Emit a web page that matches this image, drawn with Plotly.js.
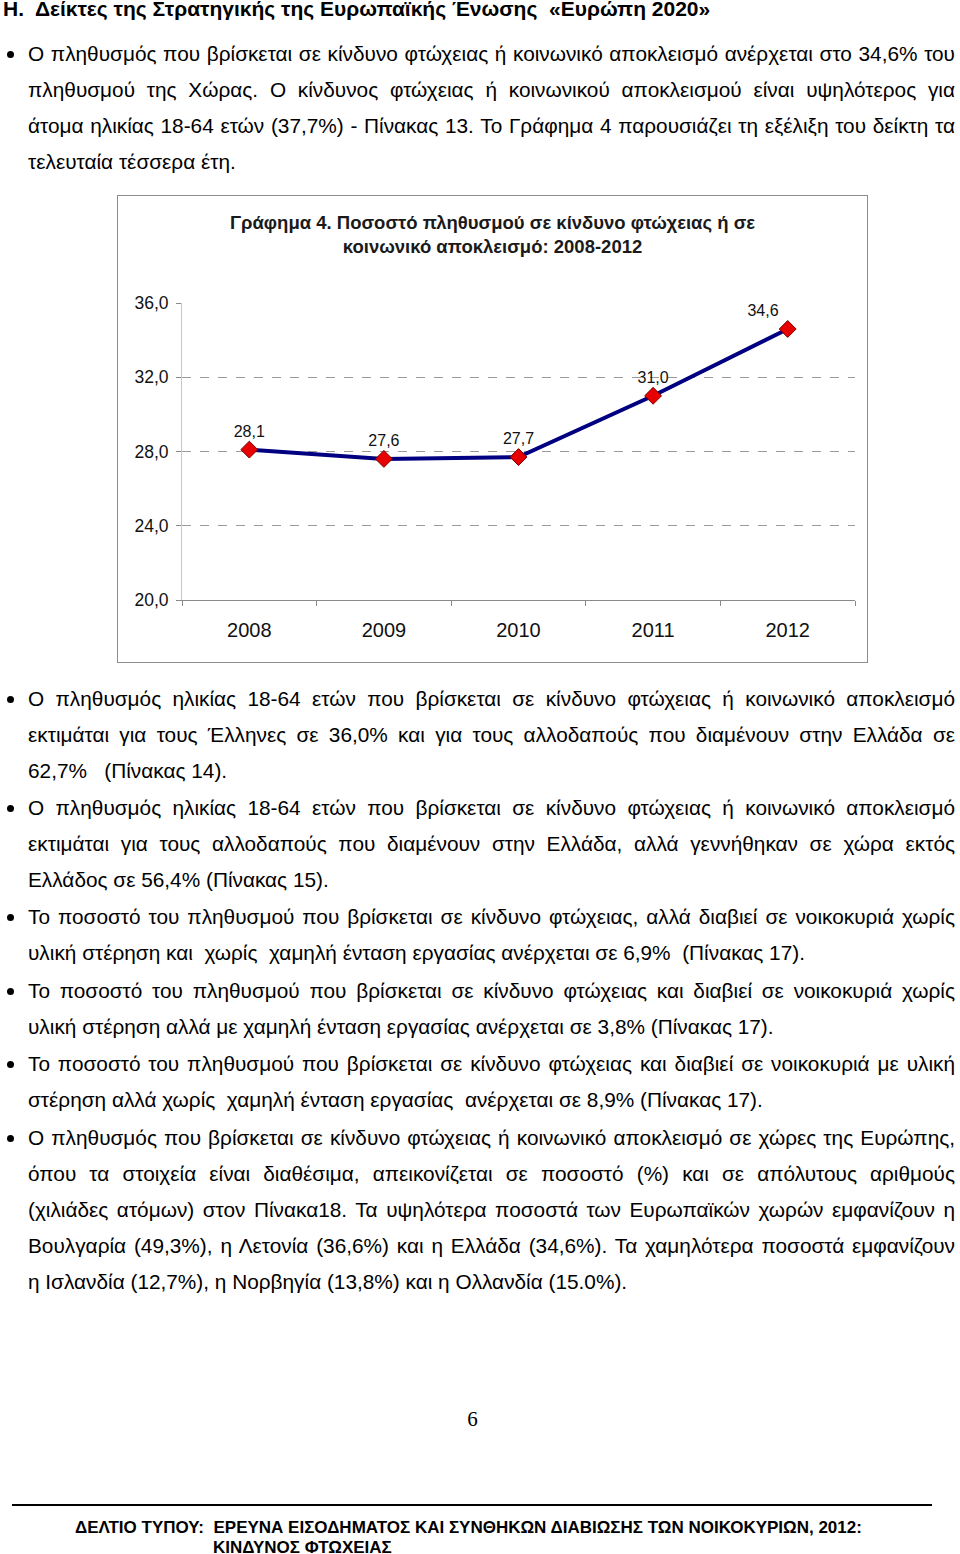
<!DOCTYPE html>
<html>
<head>
<meta charset="utf-8">
<script src="https://cdn.plot.ly/plotly-3.0.1.min.js"></script>
<style>
  html, body { margin:0; padding:0; background:#fff; }
  body { width:960px; height:1554px; position:relative; overflow:hidden; font-family:"Liberation Sans", Arial, sans-serif; color:#000; }
  .ln { position:absolute; left:28px; height:36px; line-height:36px; font-size:20.8px; white-space:nowrap; }
  .bul { position:absolute; left:4px; width:12px; height:12px; }
  .bul::after { content:""; position:absolute; left:3px; top:3px; width:7px; height:7px; border-radius:50%; background:#000; }
  #hdr { position:absolute; left:3px; top:-3px; font-weight:bold; font-size:21px; white-space:nowrap; }
  #chartbox { position:absolute; left:117px; top:195px; width:749px; height:466px; border:1px solid #8c8c8c; }
  #chart { width:749px; height:466px; }
  #pg { position:absolute; left:0; width:945px; top:1407px; text-align:center; font-family:"Liberation Serif", serif; font-size:21px; }
  #rule { position:absolute; left:12px; width:920px; top:1504px; height:2px; background:#000; }
  .ft { position:absolute; font-weight:bold; font-size:17px; white-space:nowrap; }
</style>
</head>
<body>
<div id="hdr">Η.&nbsp; Δείκτες της Στρατηγικής της Ευρωπαϊκής Ένωσης&nbsp; «Ευρώπη 2020»</div>
<div id="chartbox"><div id="chart"></div></div>
<div id="pg">6</div>
<div id="rule"></div>
<div class="ft" style="left:75px; top:1518px;">ΔΕΛΤΙΟ ΤΥΠΟΥ:&nbsp; ΕΡΕΥΝΑ ΕΙΣΟΔΗΜΑΤΟΣ ΚΑΙ ΣΥΝΘΗΚΩΝ ΔΙΑΒΙΩΣΗΣ ΤΩΝ ΝΟΙΚΟΚΥΡΙΩΝ, 2012:</div>
<div class="ft" style="left:213px; top:1538px;">ΚΙΝΔΥΝΟΣ ΦΤΩΧΕΙΑΣ</div>
<script>
// ---- chart data ----
var years = ['2008', '2009', '2010', '2011', '2012'];
var rates = [28.1, 27.6, 27.7, 31.0, 34.6];
var rateLabels = ['28,1', '27,6', '27,7', '31,0', '34,6'];
var yTicks = [20, 24, 28, 32, 36];
var chartTitle = 'Γράφημα 4. Ποσοστό πληθυσμού σε κίνδυνο φτώχειας ή σε<br>κοινωνικό αποκλεισμό: 2008-2012';

// ---- page text ----
var paragraphs = [
  [54, ['Ο πληθυσμός που βρίσκεται σε κίνδυνο φτώχειας ή κοινωνικό αποκλεισμό ανέρχεται στο 34,6% του',
        'πληθυσμού της Χώρας. Ο κίνδυνος φτώχειας ή κοινωνικού αποκλεισμού είναι υψηλότερος για',
        'άτομα ηλικίας 18-64 ετών (37,7%) - Πίνακας 13. Το Γράφημα 4 παρουσιάζει τη εξέλιξη του δείκτη τα',
        'τελευταία τέσσερα έτη.']],
  [699, ['Ο πληθυσμός  ηλικίας 18-64 ετών που βρίσκεται σε κίνδυνο φτώχειας ή κοινωνικό αποκλεισμό',
         'εκτιμάται για τους Έλληνες σε 36,0% και για τους αλλοδαπούς που διαμένουν στην Ελλάδα σε',
         '62,7%   (Πίνακας 14).']],
  [808, ['Ο πληθυσμός ηλικίας 18-64 ετών που βρίσκεται σε κίνδυνο φτώχειας ή κοινωνικό αποκλεισμό',
         'εκτιμάται για τους αλλοδαπούς που διαμένουν στην Ελλάδα, αλλά γεννήθηκαν σε χώρα εκτός',
         'Ελλάδος σε 56,4% (Πίνακας 15).']],
  [917, ['Το ποσοστό του πληθυσμού που βρίσκεται σε κίνδυνο φτώχειας, αλλά διαβιεί σε νοικοκυριά χωρίς',
         'υλική στέρηση και  χωρίς  χαμηλή ένταση εργασίας ανέρχεται σε 6,9%  (Πίνακας 17).']],
  [991, ['Το ποσοστό του πληθυσμού που βρίσκεται σε κίνδυνο φτώχειας και διαβιεί σε νοικοκυριά χωρίς',
         'υλική στέρηση αλλά με χαμηλή ένταση εργασίας ανέρχεται σε 3,8% (Πίνακας 17).']],
  [1064, ['Το ποσοστό του πληθυσμού που βρίσκεται σε κίνδυνο φτώχειας και διαβιεί σε νοικοκυριά με υλική',
          'στέρηση αλλά χωρίς  χαμηλή ένταση εργασίας  ανέρχεται σε 8,9% (Πίνακας 17).']],
  [1138, ['Ο πληθυσμός που βρίσκεται σε κίνδυνο φτώχειας ή κοινωνικό αποκλεισμό σε χώρες της Ευρώπης,',
          'όπου τα στοιχεία είναι διαθέσιμα, απεικονίζεται σε ποσοστό (%) και σε απόλυτους αριθμούς',
          '(χιλιάδες ατόμων) στον Πίνακα18. Τα υψηλότερα ποσοστά των Ευρωπαϊκών χωρών εμφανίζουν η',
          'Βουλγαρία (49,3%), η Λετονία (36,6%) και η Ελλάδα (34,6%). Τα χαμηλότερα ποσοστά εμφανίζουν',
          'η Ισλανδία (12,7%), η Νορβηγία (13,8%) και η Ολλανδία (15.0%).']]
];
var lineStep = 36;
var lineWidth = 927;

paragraphs.forEach(function (p) {
  var y0 = p[0], lines = p[1];
  var b = document.createElement('div');
  b.className = 'bul';
  b.style.top = (y0 - 6) + 'px';
  document.body.appendChild(b);
  lines.forEach(function (t, i) {
    var d = document.createElement('div');
    d.className = 'ln';
    d.style.top = (y0 + i * lineStep - 18) + 'px';
    var last = (i === lines.length - 1);
    if (last) {
      d.style.whiteSpace = 'pre';
      d.textContent = t;
      document.body.appendChild(d);
    } else {
      var words = t.split(/\s+/);
      d.textContent = words.join(' ');
      document.body.appendChild(d);
      var w = d.getBoundingClientRect().width;
      var gaps = words.length - 1;
      if (gaps > 0) d.style.wordSpacing = ((lineWidth - w) / gaps) + 'px';
    }
  });
});

// ---- plotly chart ----
var trace = {
  x: years,
  y: rates,
  type: 'scatter',
  mode: 'lines+markers+text',
  text: rateLabels,
  textposition: ['top center', 'top center', 'top center', 'top center', 'top left'],
  textfont: { family: 'Liberation Sans, Arial, sans-serif', size: 16, color: '#111' },
  line: { color: '#000080', width: 4 },
  marker: { symbol: 'diamond', size: 13, color: '#e60000', line: { color: '#7a0000', width: 1 } },
  cliponaxis: false,
  hoverinfo: 'skip'
};

var layout = {
  width: 749,
  height: 466,
  margin: { l: 64, r: 12, t: 107, b: 62 },
  paper_bgcolor: '#fff',
  plot_bgcolor: '#fff',
  showlegend: false,
  separators: ',.',
  title: {
    text: chartTitle,
    x: 0.5, xanchor: 'center',
    yref: 'container', y: 0.93, yanchor: 'middle',
    font: { family: 'Liberation Sans, Arial, sans-serif', size: 18.5, color: '#1a1a1a', weight: 'bold' }
  },
  xaxis: {
    type: 'category',
    range: [-0.5, 4.5],
    showgrid: false,
    showline: true, linecolor: '#8a8a8a', linewidth: 1,
    ticks: 'outside', tickson: 'boundaries', ticklen: 5, tickcolor: '#8a8a8a',
    ticklabelstandoff: 12,
    tickfont: { family: 'Liberation Sans, Arial, sans-serif', size: 20, color: '#111' },
    fixedrange: true, zeroline: false
  },
  yaxis: {
    range: [20, 36],
    tickvals: yTicks,
    tickformat: '.1f',
    showgrid: true, gridcolor: '#9a9a9a', griddash: 'dash', gridwidth: 1,
    showline: true, linecolor: '#c8c8c8', linewidth: 1,
    ticks: 'outside', ticklen: 5, tickcolor: '#8a8a8a',
    ticklabelstandoff: 4,
    tickfont: { family: 'Liberation Sans, Arial, sans-serif', size: 17.5, color: '#111' },
    zeroline: false, fixedrange: true
  }
};

Plotly.newPlot('chart', [trace], layout, { displayModeBar: false, staticPlot: true });
</script>
</body>
</html>
